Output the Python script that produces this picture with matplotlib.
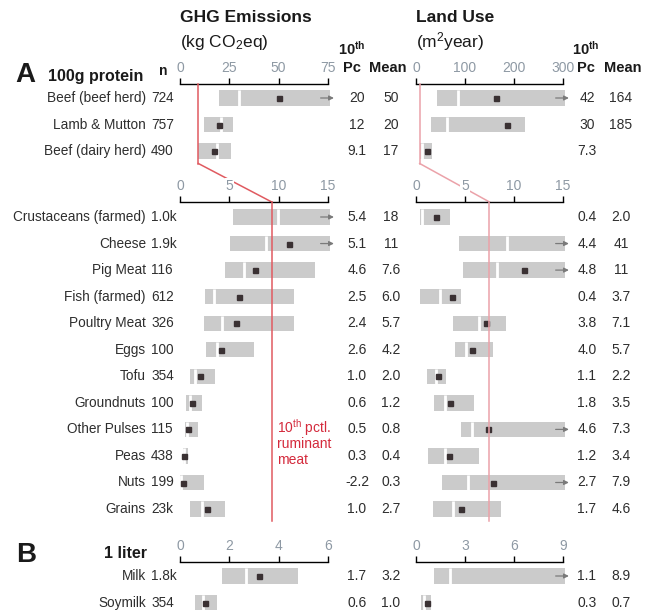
import numpy as np
import matplotlib
matplotlib.use("Agg")
import matplotlib.pyplot as plt
from matplotlib.lines import Line2D
from matplotlib.transforms import blended_transform_factory

# ---- data -----------------------------------------------------------------
items = ["Beef (beef herd)", "Lamb & Mutton", "Beef (dairy herd)",
         "Crustaceans (farmed)", "Cheese", "Pig Meat", "Fish (farmed)",
         "Poultry Meat", "Eggs", "Tofu", "Groundnuts", "Other Pulses",
         "Peas", "Nuts", "Grains",
         "Milk", "Soymilk"]
n_obs = ["724", "757", "490", "1.0k", "1.9k", "116", "612", "326", "100",
         "354", "100", "115", "438", "199", "23k", "1.8k", "354"]

nan = np.nan  # nan in a 90th pctl = bar runs off the axis
# GHG emissions (kg CO2eq)
ghg_p10  = [20, 12, 9.1, 5.4, 5.1, 4.6, 2.5, 2.4, 2.6, 1.0, 0.6, 0.5, 0.3, -2.2, 1.0, 1.7, 0.6]
ghg_p50  = [30, 21, 18.5, 9.9, 8.7, 6.5, 3.4, 4.3, 3.8, 1.5, 1.0, 0.75, 0.37, 0.1, 2.2, 2.66, 0.92]
ghg_p90  = [nan, 27, 26, nan, nan, 13.7, 11.6, 11.6, 7.5, 3.5, 2.2, 1.8, 0.78, 2.4, 4.6, 4.8, 1.5]
ghg_mean = [50, 20, 17, 18, 11, 7.6, 6.0, 5.7, 4.2, 2.0, 1.2, 0.8, 0.4, 0.3, 2.7, 3.2, 1.0]
# Land use (m2 year)
land_p10  = [42, 30, 7.3, 0.4, 4.4, 4.8, 0.4, 3.8, 4.0, 1.1, 1.8, 4.6, 1.2, 2.7, 1.7, 1.1, 0.3]
land_p50  = [86, 63, 12, 0.6, 9.3, 8.3, 2.4, 6.4, 5.1, 2.0, 3.0, 5.75, 3.0, 5.3, 3.8, 2.1, 0.5]
land_p90  = [nan, 222, 33, 3.5, nan, nan, 4.6, 9.2, 7.9, 3.1, 5.9, nan, 6.4, nan, 8.7, nan, 0.92]
land_mean = [164, 185, 22, 2.0, 41, 11, 3.7, 7.1, 5.7, 2.2, 3.5, 7.3, 3.4, 7.9, 4.6, 8.9, 0.7]

# table columns as printed
ghg_pc_col   = ["20", "12", "9.1", "5.4", "5.1", "4.6", "2.5", "2.4", "2.6", "1.0", "0.6", "0.5", "0.3", "-2.2", "1.0", "1.7", "0.6"]
ghg_mean_col = ["50", "20", "17", "18", "11", "7.6", "6.0", "5.7", "4.2", "2.0", "1.2", "0.8", "0.4", "0.3", "2.7", "3.2", "1.0"]
land_pc_col   = ["42", "30", "7.3", "0.4", "4.4", "4.8", "0.4", "3.8", "4.0", "1.1", "1.8", "4.6", "1.2", "2.7", "1.7", "1.1", "0.3"]
land_mean_col = ["164", "185", "", "2.0", "41", "11", "3.7", "7.1", "5.7", "2.2", "3.5", "7.3", "3.4", "7.9", "4.6", "8.9", "0.7"]

# 10th percentile of ruminant meat (reference line)
ghg_ruminant_p10 = 9.3
land_ruminant_p10 = 7.5

# sections: rows, axis maxima, ticks
sec_rows = [(0, 3), (3, 15), (15, 17)]
ghg_xmax = [75, 15, 6]
land_xmax = [300, 15, 9]
ghg_ticks = [[0, 25, 50, 75], [0, 5, 10, 15], [0, 2, 4, 6]]
land_ticks = [[0, 100, 200, 300], [0, 5, 10, 15], [0, 3, 6, 9]]

# ---- layout (pixels) ------------------------------------------------------
W, H = 657, 613
sec_line = [84, 202, 562]     # y of axis line
sec_row0 = [98, 217, 576]     # y of first row
sec_bottom = [163.5, 521, 613]
ROW = 26.55
GHG_X = (180, 328)
LAND_X = (416, 563)

GRAY_BAR = "#cbcbcb"
MARK = "#3a3133"
TICK_TXT = "#8e99a4"
INK = "#2e2e2e"
RED_GHG = "#e05a60"
RED_LAND = "#eba2a9"
RED_TXT = "#d42a3c"

plt.rcParams.update({
    "font.family": ["Liberation Sans", "DejaVu Sans"],
    "mathtext.fontset": "custom",
    "mathtext.rm": "Liberation Sans",
    "mathtext.it": "Liberation Sans:italic",
    "mathtext.bf": "Liberation Sans:bold",
    "text.color": INK,
})

fig = plt.figure(figsize=(W / 100, H / 100), dpi=100)
fig.patch.set_facecolor("white")


def fx(x):
    return x / W


def fy(y):
    return 1 - y / H


def make_axes(xr, s, xmax, ticks):
    top, bot = sec_line[s], sec_bottom[s]
    ax = fig.add_axes([fx(xr[0]), fy(bot), (xr[1] - xr[0]) / W, (bot - top) / H])
    ax.patch.set_visible(False)
    t = -(sec_row0[s] - top) / ROW
    b = t + (bot - top) / ROW
    ax.set_ylim(b, t)
    ax.set_xlim(0, xmax)
    for k in ["left", "right", "bottom"]:
        ax.spines[k].set_visible(False)
    ax.spines["top"].set_linewidth(1.0)
    ax.xaxis.tick_top()
    ax.set_xticks(ticks)
    ax.tick_params(axis="x", direction="out", length=4, width=1.0, pad=2.5,
                   labelsize=10, labelcolor=TICK_TXT)
    for lbl in ax.get_xticklabels():
        lbl.set_bbox(dict(fc="white", ec="none", pad=0.6))
    ax.set_yticks([])
    return ax


def draw_bars(ax, p10, p50, p90, mean, xmax):
    y = np.arange(len(p10))
    p10 = np.array(p10, float)
    p90 = np.array(p90, float)
    off = np.isnan(p90)
    right = np.where(off, xmax * 1.012, p90)
    ax.barh(y, right - p10, left=p10, height=0.58, color=GRAY_BAR, zorder=2)
    ax.vlines(p50, y - 0.29, y + 0.29, colors="white", lw=2.0, zorder=3)
    for yi, m, o in zip(y, mean, off):
        if m < xmax and not (o and m > 0.95 * xmax):
            ax.plot(m, yi, "s", ms=3.6, color=MARK, zorder=4)
        if o:
            ax.annotate("", xy=(xmax * 1.04, yi), xytext=(xmax * 0.95, yi),
                        arrowprops=dict(arrowstyle="-|>", color="#7a7a7a", lw=0.9,
                                        mutation_scale=7, shrinkA=0, shrinkB=0),
                        annotation_clip=False, zorder=5)


ghg_axes, land_axes = [], []
for s, (a, b) in enumerate(sec_rows):
    axg = make_axes(GHG_X, s, ghg_xmax[s], ghg_ticks[s])
    axl = make_axes(LAND_X, s, land_xmax[s], land_ticks[s])
    draw_bars(axg, ghg_p10[a:b], ghg_p50[a:b], ghg_p90[a:b], ghg_mean[a:b], ghg_xmax[s])
    draw_bars(axl, land_p10[a:b], land_p50[a:b], land_p90[a:b], land_mean[a:b], land_xmax[s])
    for ax in (axg, axl):
        for p in ax.patches:
            p.set_clip_on(False)
        ax.set_xlim(0, ax.get_xlim()[1])
    ghg_axes.append(axg)
    land_axes.append(axl)

    tr = blended_transform_factory(fig.transFigure, axg.transData)
    for i in range(b - a):
        k = a + i
        fig.text(fx(146), i, items[k], transform=tr, ha="right", va="center", fontsize=9.8)
        fig.text(fx(151), i, n_obs[k], transform=tr, ha="left", va="center", fontsize=9.8)
        fig.text(fx(357), i, ghg_pc_col[k], transform=tr, ha="center", va="center", fontsize=10)
        fig.text(fx(391), i, ghg_mean_col[k], transform=tr, ha="center", va="center", fontsize=10)
        fig.text(fx(587), i, land_pc_col[k], transform=tr, ha="center", va="center", fontsize=10)
        fig.text(fx(621), i, land_mean_col[k], transform=tr, ha="center", va="center", fontsize=10)

# Nuts bar starts below zero: clip it at the axis origin
nuts_bar = ghg_axes[1].patches[items.index("Nuts") - 3]
nuts_bar.set_clip_on(True)

# ---- ruminant reference line ---------------------------------------------
inv = fig.transFigure.inverted()
for axs, v, col in [(ghg_axes, ghg_ruminant_p10, RED_GHG), (land_axes, land_ruminant_p10, RED_LAND)]:
    a0, a1 = axs[0], axs[1]
    for ax in (a0, a1):
        yb, yt = ax.get_ylim()
        ax.plot([v, v], [yt, yb], color=col, lw=1.1, zorder=6, clip_on=False)
    p0 = inv.transform(a0.transData.transform((v, a0.get_ylim()[0])))
    p1 = inv.transform(a1.transData.transform((v, a1.get_ylim()[1])))
    fig.add_artist(Line2D([p0[0], p1[0]], [p0[1], p1[1]], color=col, lw=1.1,
                          transform=fig.transFigure, zorder=-1))

fig.text(fx(277), fy(428), "10$^{\\mathrm{th}}$ pctl.", color=RED_TXT, fontsize=10, va="center")
fig.text(fx(277), fy(444), "ruminant", color=RED_TXT, fontsize=10, va="center")
fig.text(fx(277), fy(460), "meat", color=RED_TXT, fontsize=10, va="center")

# ---- headers --------------------------------------------------------------
fig.text(fx(180), fy(18), "GHG Emissions", fontsize=12.5, weight="bold", va="center", color="#1a1a1a")
fig.text(fx(180), fy(42), "(kg CO$_\\mathrm{2}$eq)", fontsize=12.5, va="center", color="#1a1a1a")
fig.text(fx(416), fy(18), "Land Use", fontsize=12.5, weight="bold", va="center", color="#1a1a1a")
fig.text(fx(416), fy(42), "(m$^\\mathrm{2}$year)", fontsize=12.5, va="center", color="#1a1a1a")

for xc_pc, xc_mean in [(352, 388), (586, 623)]:
    fig.text(fx(xc_pc), fy(49), "$\\mathbf{10^{th}}$", fontsize=10.5, ha="center", va="center", color="#1a1a1a")
    fig.text(fx(xc_pc), fy(68), "Pc", fontsize=10.5, weight="bold", ha="center", va="center", color="#1a1a1a")
    fig.text(fx(xc_mean), fy(68), "Mean", fontsize=10.5, weight="bold", ha="center", va="center", color="#1a1a1a")

fig.text(fx(15), fy(75), "A", fontsize=20, weight="bold", va="center", color="#1a1a1a")
fig.text(fx(48), fy(76), "100g protein", fontsize=11.5, weight="bold", va="center", color="#1a1a1a")
fig.text(fx(163), fy(71), "n", fontsize=10, weight="bold", ha="center", va="center", color="#1a1a1a")
fig.text(fx(16), fy(555), "B", fontsize=20, weight="bold", va="center", color="#1a1a1a")
fig.text(fx(147), fy(553), "1 liter", fontsize=11.5, weight="bold", ha="right", va="center", color="#1a1a1a")

fig.savefig("out.png", dpi=100)
